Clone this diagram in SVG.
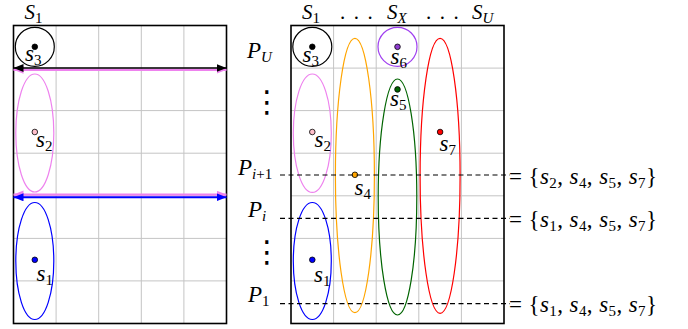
<svg xmlns="http://www.w3.org/2000/svg" width="688" height="329" viewBox="0 0 688 329">
<style>
.grid{stroke:#c4c4c4;stroke-width:1;fill:none}
.box{stroke:#000;stroke-width:1.6;fill:none}
.m{font-style:italic;font-size:23px;fill:#000}
.t{font-size:21px}
.sub{font-size:15px}
.up{font-style:normal}
.dash{stroke:#000;stroke-width:1.2;stroke-dasharray:5 3.5;fill:none}
.dot{stroke:#000;stroke-width:0.8}
.ell{fill:none;stroke-width:1.2}
.vd{font-family:"DejaVu Sans",sans-serif;font-size:30px;fill:#000}
</style>
<defs>
<marker id="ab" markerUnits="userSpaceOnUse" markerWidth="11" markerHeight="9" refX="10" refY="4" orient="auto-start-reverse"><path d="M0,0 L10,4 L0,8 Z" fill="#000"/></marker>
<marker id="ap" markerUnits="userSpaceOnUse" markerWidth="11" markerHeight="9" refX="10" refY="4" orient="auto-start-reverse"><path d="M0,0 L10,4 L0,8 Z" fill="#ee82ee"/></marker>
<marker id="al" markerUnits="userSpaceOnUse" markerWidth="11" markerHeight="9" refX="10" refY="4" orient="auto-start-reverse"><path d="M0,0 L10,4 L0,8 Z" fill="#0000ff"/></marker>
</defs>

<g id="left-grid">
<path class="grid" d="M56.1,25.5V323.5M98.7,25.5V323.5M141.3,25.5V323.5M183.9,25.5V323.5M13.5,68.1H226.5M13.5,110.6H226.5M13.5,153.2H226.5M13.5,195.8H226.5M13.5,238.4H226.5M13.5,280.9H226.5"/>
<rect class="box" x="13.5" y="25.5" width="213" height="298"/>
</g>
<g id="right-grid">
<path class="grid" d="M333.6,25.5V323.5M376.2,25.5V323.5M418.8,25.5V323.5M461.4,25.5V323.5M291,68.1H504M291,110.6H504M291,153.2H504M291,195.8H504M291,238.4H504M291,280.9H504"/>
<rect class="box" x="291" y="25.5" width="213" height="298"/>
</g>

<g font-family="Liberation Serif, Times New Roman, serif">
<g id="labels">
<text class="m t" x="24.5" y="19">S<tspan class="sub up" dy="3.5">1</tspan></text>
<text class="m t" x="302" y="19">S<tspan class="sub up" dy="3.5">1</tspan></text>
<text class="m t up" x="340" y="19" letter-spacing="1.6">. . .</text>
<text class="m t" x="387" y="19">S<tspan class="sub" dy="3.5">X</tspan></text>
<text class="m t up" x="426" y="19" letter-spacing="1.6">. . .</text>
<text class="m t" x="472" y="19">S<tspan class="sub" dy="3.5">U</tspan></text>
<text class="m" x="247" y="58">P<tspan class="sub" dy="4">U</tspan></text>
<text class="vd" x="252" y="112">⋮</text>
<text class="m" x="238" y="175">P<tspan class="sub" dy="4">i</tspan><tspan class="sub up">+1</tspan></text>
<text class="m" x="248" y="217">P<tspan class="sub" dy="4">i</tspan></text>
<text class="vd" x="252" y="262">⋮</text>
<text class="m" x="248" y="302">P<tspan class="sub up" dy="4">1</tspan></text>
</g>

<g id="L-s3"><circle class="ell" cx="34.8" cy="46.8" r="19.5" stroke="#000"/><circle class="dot" cx="34.8" cy="46.8" r="2.8" fill="#000"/><text class="m" x="25" y="61">s<tspan class="sub up" dy="4">3</tspan></text></g>
<g id="L-s2"><ellipse class="ell" cx="34.8" cy="133" rx="19" ry="59" stroke="#ee82ee"/><circle class="dot" cx="34.8" cy="132" r="2.8" fill="#ffc0cb"/><text class="m" x="36" y="146.5">s<tspan class="sub up" dy="4">2</tspan></text></g>
<g id="L-s1"><ellipse class="ell" cx="34.8" cy="261" rx="19" ry="58.5" stroke="#0000ff"/><circle class="dot" cx="34.8" cy="259.8" r="2.8" fill="#0000ff"/><text class="m" x="36.5" y="281">s<tspan class="sub up" dy="4">1</tspan></text></g>

<g id="R-s3"><circle class="ell" cx="312.3" cy="46.8" r="19.5" stroke="#000"/><circle class="dot" cx="312.3" cy="46.8" r="2.8" fill="#000"/><text class="m" x="302.5" y="61.5">s<tspan class="sub up" dy="4">3</tspan></text></g>
<g id="R-s2"><ellipse class="ell" cx="312.3" cy="133.2" rx="19" ry="59.2" stroke="#ee82ee"/><circle class="dot" cx="312.3" cy="132" r="2.8" fill="#ffc0cb"/><text class="m" x="314.5" y="147">s<tspan class="sub up" dy="4">2</tspan></text></g>
<g id="R-s1"><ellipse class="ell" cx="312.3" cy="261" rx="19" ry="58.5" stroke="#0000ff"/><circle class="dot" cx="312.3" cy="259.8" r="2.8" fill="#0000ff"/><text class="m" x="314" y="281.5">s<tspan class="sub up" dy="4">1</tspan></text></g>
<g id="R-s4"><ellipse class="ell" cx="354.9" cy="175.5" rx="19.5" ry="137.2" stroke="#ffa500"/><circle class="dot" cx="354.9" cy="174.8" r="2.8" fill="#ffa500"/><text class="m" x="354.5" y="194.5">s<tspan class="sub up" dy="4">4</tspan></text></g>
<g id="R-s6"><circle class="ell" cx="397.5" cy="46.8" r="19.5" stroke="#a040f0"/><circle class="dot" cx="397.5" cy="46.8" r="2.8" fill="#8e3ccf"/><text class="m" x="390.5" y="64">s<tspan class="sub up" dy="4">6</tspan></text></g>
<g id="R-s5"><ellipse class="ell" cx="397.5" cy="197" rx="19.3" ry="118" stroke="#006400"/><circle class="dot" cx="397.5" cy="89.4" r="2.8" fill="#006400"/><text class="m" x="390" y="106">s<tspan class="sub up" dy="4">5</tspan></text></g>
<g id="R-s7"><ellipse class="ell" cx="440.1" cy="175.8" rx="20" ry="137.5" stroke="#ff0000"/><circle class="dot" cx="440.1" cy="132" r="2.8" fill="#ff0000"/><text class="m" x="439.5" y="151">s<tspan class="sub up" dy="4">7</tspan></text></g>

<g id="results">
<text class="m" x="509" y="183.5" textLength="148" lengthAdjust="spacing"><tspan class="up">= {</tspan>s<tspan class="sub up" dy="4">2</tspan><tspan class="up" dy="-4">, </tspan>s<tspan class="sub up" dy="4">4</tspan><tspan class="up" dy="-4">, </tspan>s<tspan class="sub up" dy="4">5</tspan><tspan class="up" dy="-4">, </tspan>s<tspan class="sub up" dy="4">7</tspan><tspan class="up" dy="-4">}</tspan></text>
<text class="m" x="509" y="226.8" textLength="148" lengthAdjust="spacing"><tspan class="up">= {</tspan>s<tspan class="sub up" dy="4">1</tspan><tspan class="up" dy="-4">, </tspan>s<tspan class="sub up" dy="4">4</tspan><tspan class="up" dy="-4">, </tspan>s<tspan class="sub up" dy="4">5</tspan><tspan class="up" dy="-4">, </tspan>s<tspan class="sub up" dy="4">7</tspan><tspan class="up" dy="-4">}</tspan></text>
<text class="m" x="509" y="312.2" textLength="148" lengthAdjust="spacing"><tspan class="up">= {</tspan>s<tspan class="sub up" dy="4">1</tspan><tspan class="up" dy="-4">, </tspan>s<tspan class="sub up" dy="4">4</tspan><tspan class="up" dy="-4">, </tspan>s<tspan class="sub up" dy="4">5</tspan><tspan class="up" dy="-4">, </tspan>s<tspan class="sub up" dy="4">7</tspan><tspan class="up" dy="-4">}</tspan></text>
</g>
</g>

<g id="connectors">
<line x1="13.5" y1="69.8" x2="226.5" y2="69.8" stroke="#ee82ee" stroke-width="2.2" marker-start="url(#ap)" marker-end="url(#ap)"/>
<line x1="13.5" y1="68" x2="226.5" y2="68" stroke="#000" stroke-width="1.6" marker-start="url(#ab)" marker-end="url(#ab)"/>
<line x1="13.5" y1="194.6" x2="226.5" y2="194.6" stroke="#ee82ee" stroke-width="2.2" marker-start="url(#ap)" marker-end="url(#ap)"/>
<line x1="13.5" y1="197.3" x2="226.5" y2="197.3" stroke="#0000ff" stroke-width="2" marker-start="url(#al)" marker-end="url(#al)"/>
<line class="dash" x1="280" y1="175" x2="510" y2="175"/>
<line class="dash" x1="280" y1="218.3" x2="510" y2="218.3"/>
<line class="dash" x1="280" y1="303.7" x2="510" y2="303.7"/>
</g>
</svg>
